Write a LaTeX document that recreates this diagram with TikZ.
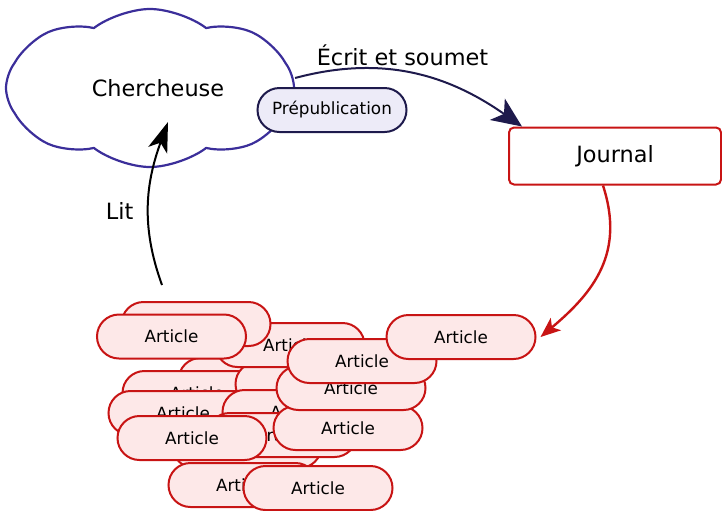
\documentclass[tikz,border=0pt]{standalone}
\usepackage{fontspec}
\setmainfont{DejaVu Sans}
\usepackage{tikz}
\usetikzlibrary{shapes.symbols}
\usetikzlibrary{arrows.meta}
\tikzset{>=latex}
\definecolor{nuageclr}{HTML}{3B2E9A}
\definecolor{marine}{HTML}{1E1A4C}
\definecolor{lavande}{HTML}{EDEBF8}
\definecolor{rouge}{HTML}{C81414}
\definecolor{rose}{HTML}{FDE8E8}
\tikzset{
    grand/.style={font=\fontsize{11.2}{13.4}\selectfont},
    petit/.style={font=\fontsize{8.4}{10}\selectfont},
    nuage/.style={grand, cloud, cloud puffs=8, cloud puff arc=75, cloud ignores aspect,
        draw=nuageclr, line width=1.1pt, minimum width=144pt, minimum height=79pt},
    prepub/.style={petit, draw=marine, fill=lavande, line width=1pt, rounded corners=11pt,
        minimum width=74.5pt, minimum height=22pt},
    revue/.style={grand, draw=rouge, fill=white, line width=1pt, rounded corners=2.5pt,
        minimum width=106pt, minimum height=28.5pt},
    article/.style={petit, draw=rouge, fill=rose, line width=1pt, rounded corners=11pt,
        minimum width=74.5pt, minimum height=22pt}
}

\begin{document}
\begin{tikzpicture}[x=0.5pt, y=-0.5pt]
    \useasboundingbox (0,0) rectangle (722,510);

    \node[nuage] (cher) at (150,88) {\hspace*{8pt}Chercheuse};
    \node[prepub] (prep) at (332,110) {Prépublication};
    \node[revue] (jour) at (615,156) {Journal};

    % le tas d'articles
    \node[article] (a1) at (253,380) {Article};
    \node[article] (a2) at (197,393) {Article};
    \node[article] (a3) at (310,384) {Article};
    \node[article] (a4) at (290,345) {Article};
    \node[article] (a5) at (196,324) {Article};
    \node[article] (a6) at (171.5,336.5) {Article};
    \node[article] (a7) at (183,413) {Article};
    \node[article] (a8) at (247,446) {Article};
    \node[article] (a9) at (297,412) {Article};
    \node[article] (a10) at (282,435) {Article};
    \node[article] (a11) at (192,438) {Article};
    \node[article] (a12) at (348,428) {Article};
    \node[article] (a13) at (351,388) {Article};
    \node[article] (a14) at (362,361) {Article};
    \node[article] (a15) at (461,337) {Article};
    \node[article] (a16) at (243,485) {Article};
    \node[article] (a17) at (318,488) {Article};

    \coordinate (lit) at (162,285);

    \draw[marine, line width=1pt, -{Stealth[length=15pt,width=13pt,inset=4pt]}]
        ([yshift=5pt]cher.east) to[out=15, in=145]
        node[pos=0.45, above, black, grand, inner sep=2.5pt] {Écrit et soumet}
        ([xshift=7pt]jour.north west);
    \draw[rouge, line width=1.2pt, -{Stealth[length=10pt,width=8pt,inset=2.5pt]}]
        ([xshift=-6pt]jour.south) to[out=-72, in=40, looseness=1.1] ([xshift=2pt]a15.east);
    \draw[line width=1pt, -{Stealth[length=15pt,width=10pt,inset=4pt]}]
        (lit) to[out=110, in=-110]
        node[pos=0.45, left, grand, inner sep=7pt] {Lit}
        ([xshift=9pt,yshift=-17pt]cher.center);

\end{tikzpicture}
\end{document}
